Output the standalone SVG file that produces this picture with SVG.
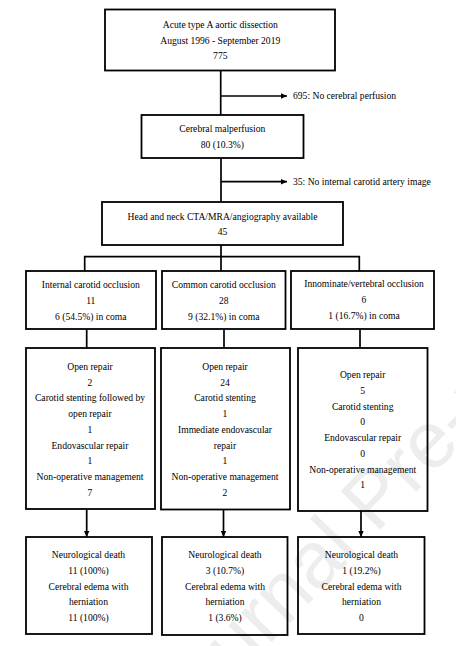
<svg xmlns="http://www.w3.org/2000/svg" width="456" height="646" viewBox="0 0 456 646">
<style>
.box{fill:none;stroke:#000;stroke-width:1.8}
.ln{fill:none;stroke:#000;stroke-width:1.7}
text{font-family:"Liberation Serif","Times New Roman",serif;font-size:9.6px;fill:#000}
.c{text-anchor:middle}
text.wm{font-family:"Liberation Sans",Arial,sans-serif;font-size:80px;fill:#ededed}
</style>
<defs>
<marker id="arr" viewBox="0 0 6 6" refX="6" refY="3" markerWidth="6" markerHeight="6" orient="auto" markerUnits="userSpaceOnUse">
<path d="M0,0.3 L6,3 L0,5.7 z" fill="#000"/>
</marker>
</defs>
<rect width="456" height="646" fill="#fff"/>
<text class="wm" transform="translate(267.7,646.1) rotate(-46)" x="-129" y="0">Journal Pre-proof</text>

<g id="connectors">
<line class="ln" x1="220.7" y1="70.5" x2="220.7" y2="115"/>
<line class="ln" x1="220.7" y1="96" x2="287" y2="96" marker-end="url(#arr)"/>
<line class="ln" x1="221" y1="158" x2="221" y2="202"/>
<line class="ln" x1="221" y1="181.7" x2="287" y2="181.7" marker-end="url(#arr)"/>
<line class="ln" x1="221" y1="245" x2="221" y2="271"/>
<polyline class="ln" points="84.7,271 84.7,256.7 359.3,256.7 359.3,271"/>
<line class="ln" x1="86.7" y1="329" x2="86.7" y2="348"/>
<line class="ln" x1="224" y1="329" x2="224" y2="348"/>
<line class="ln" x1="360" y1="329" x2="360" y2="348"/>
<line class="ln" x1="86.7" y1="509" x2="86.7" y2="537" marker-end="url(#arr)"/>
<line class="ln" x1="223.5" y1="509.5" x2="223.5" y2="537" marker-end="url(#arr)"/>
<line class="ln" x1="361" y1="511" x2="361" y2="537" marker-end="url(#arr)"/>
<text x="293" y="99.3">695: No cerebral perfusion</text>
<text x="293" y="185">35: No internal carotid artery image</text>
</g>

<g id="n-aad">
<rect class="box" x="105" y="9.5" width="230" height="61"/>
<text class="c" x="220.3" y="28">Acute type A aortic dissection</text>
<text class="c" x="220.3" y="43.7">August 1996 - September 2019</text>
<text class="c" x="220.3" y="59.4">775</text>
</g>

<g id="n-cm">
<rect class="box" x="141.5" y="115" width="162" height="43"/>
<text class="c" x="222.3" y="131.8">Cerebral malperfusion</text>
<text class="c" x="222.3" y="147.5">80 (10.3%)</text>
</g>

<g id="n-img">
<rect class="box" x="102" y="202" width="241" height="43"/>
<text class="c" x="222.5" y="219.5">Head and neck CTA/MRA/angiography available</text>
<text class="c" x="222.5" y="235">45</text>
</g>

<g id="n-ica">
<rect class="box" x="26" y="271" width="130" height="58"/>
<text class="c" x="90.8" y="288">Internal carotid occlusion</text>
<text class="c" x="90.8" y="304">11</text>
<text class="c" x="90.8" y="320">6 (54.5%) in coma</text>
</g>

<g id="n-cca">
<rect class="box" x="162" y="271" width="123.5" height="58"/>
<text class="c" x="223.8" y="288">Common carotid occlusion</text>
<text class="c" x="223.8" y="304">28</text>
<text class="c" x="223.8" y="320">9 (32.1%) in coma</text>
</g>

<g id="n-inn">
<rect class="box" x="291" y="271" width="143" height="58"/>
<text class="c" x="364" y="287">Innominate/vertebral occlusion</text>
<text class="c" x="364" y="302.7">6</text>
<text class="c" x="364" y="319">1 (16.7%) in coma</text>
</g>

<g id="n-ica-tx">
<rect class="box" x="26" y="348" width="129" height="161"/>
<text class="c" x="90" y="370">Open repair</text>
<text class="c" x="90" y="385.7">2</text>
<text class="c" x="90" y="401.4">Carotid stenting followed by</text>
<text class="c" x="90" y="417.1">open repair</text>
<text class="c" x="90" y="432.8">1</text>
<text class="c" x="90" y="448.5">Endovascular repair</text>
<text class="c" x="90" y="464.2">1</text>
<text class="c" x="90" y="479.9">Non-operative management</text>
<text class="c" x="90" y="495.6">7</text>
</g>

<g id="n-cca-tx">
<rect class="box" x="161" y="348" width="129" height="161.5"/>
<text class="c" x="225" y="370">Open repair</text>
<text class="c" x="225" y="385.7">24</text>
<text class="c" x="225" y="401.4">Carotid stenting</text>
<text class="c" x="225" y="417.1">1</text>
<text class="c" x="225" y="432.8">Immediate endovascular</text>
<text class="c" x="225" y="448.5">repair</text>
<text class="c" x="225" y="464.2">1</text>
<text class="c" x="225" y="479.9">Non-operative management</text>
<text class="c" x="225" y="495.6">2</text>
</g>

<g id="n-inn-tx">
<rect class="box" x="298" y="348" width="129.5" height="163"/>
<text class="c" x="362.7" y="378.3">Open repair</text>
<text class="c" x="362.7" y="394">5</text>
<text class="c" x="362.7" y="409.7">Carotid stenting</text>
<text class="c" x="362.7" y="425.4">0</text>
<text class="c" x="362.7" y="441.1">Endovascular repair</text>
<text class="c" x="362.7" y="456.8">0</text>
<text class="c" x="362.7" y="472.5">Non-operative management</text>
<text class="c" x="362.7" y="488.2">1</text>
</g>

<g id="n-ica-out">
<rect class="box" x="26" y="537" width="126" height="97"/>
<text class="c" x="88.5" y="558.3">Neurological death</text>
<text class="c" x="88.5" y="574">11 (100%)</text>
<text class="c" x="88.5" y="589.7">Cerebral edema with</text>
<text class="c" x="88.5" y="605.4">herniation</text>
<text class="c" x="88.5" y="621.1">11 (100%)</text>
</g>

<g id="n-cca-out">
<rect class="box" x="162" y="537" width="125.5" height="98"/>
<text class="c" x="225" y="558.3">Neurological death</text>
<text class="c" x="225" y="574">3 (10.7%)</text>
<text class="c" x="225" y="589.7">Cerebral edema with</text>
<text class="c" x="225" y="605.4">herniation</text>
<text class="c" x="225" y="621.1">1 (3.6%)</text>
</g>

<g id="n-inn-out">
<rect class="box" x="298" y="537" width="126.5" height="97"/>
<text class="c" x="361.5" y="558.3">Neurological death</text>
<text class="c" x="361.5" y="574">1 (19.2%)</text>
<text class="c" x="361.5" y="589.7">Cerebral edema with</text>
<text class="c" x="361.5" y="605.4">herniation</text>
<text class="c" x="361.5" y="621.1">0</text>
</g>
</svg>
